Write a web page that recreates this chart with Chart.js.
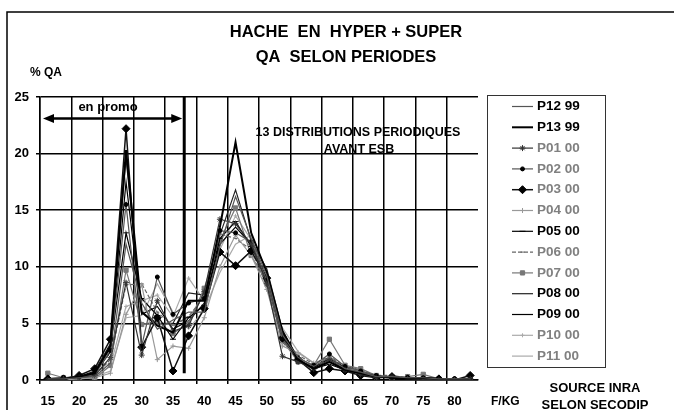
<!DOCTYPE html>
<html>
<head>
<meta charset="utf-8">
<script src="https://cdn.jsdelivr.net/npm/chart.js@4.4.1/dist/chart.umd.min.js"></script>
<style>
  html, body { margin: 0; padding: 0; background: #fff; }
  canvas { display: block; }
</style>
</head>
<body>
<canvas id="chart" width="674" height="410"></canvas>
<script>
// prix en F/KG (classes de 2,5 F)
const prices = [15, 17.5, 20, 22.5, 25, 27.5, 30, 32.5, 35, 37.5, 40, 42.5, 45, 47.5,
                50, 52.5, 55, 57.5, 60, 62.5, 65, 67.5, 70, 72.5, 75, 77.5, 80, 82.5];
const yTicks = [0, 5, 10, 15, 20, 25];

// % QA par periode
const p12_99 = [0.1, 0.1, 0.2, 0.3, 1.5, 12.0, 6.8, 4.5, 5.3, 6.0, 6.0, 11.8, 16.2, 12.5, 9.2, 4.0, 2.0, 1.2, 2.0, 1.0, 0.7, 0.3, 0.3, 0.2, 0.2, 0.1, 0.1, 0.1];
const p13_99 = [0.1, 0.1, 0.3, 0.6, 3.0, 20.3, 6.0, 4.8, 4.2, 7.0, 7.0, 13.5, 21.0, 13.0, 9.5, 4.3, 1.8, 1.0, 1.6, 0.9, 0.6, 0.3, 0.2, 0.1, 0.2, 0.1, 0.0, 0.1];
const p01_00 = [0.0, 0.1, 0.2, 0.4, 2.0, 8.6, 2.2, 7.0, 4.3, 4.8, 7.8, 14.2, 13.8, 12.0, 8.5, 2.1, 1.6, 1.0, 1.8, 0.9, 0.5, 0.2, 0.3, 0.1, 0.1, 0.0, 0.0, 0.1];
const p02_00 = [0.1, 0.2, 0.3, 0.5, 2.6, 15.5, 3.0, 9.1, 5.8, 6.8, 7.2, 13.2, 13.0, 12.2, 8.8, 3.6, 1.9, 1.3, 2.3, 1.2, 0.8, 0.4, 0.3, 0.2, 0.2, 0.1, 0.1, 0.1];
const p03_00 = [0.1, 0.1, 0.4, 1.0, 3.6, 22.2, 2.9, 5.5, 0.8, 3.9, 6.3, 11.3, 10.1, 11.4, 9.0, 3.7, 1.8, 0.65, 1.0, 0.8, 0.4, 0.2, 0.3, 0.1, 0.0, 0.1, 0.0, 0.4];
const p04_00 = [0.0, 0.0, 0.1, 0.2, 0.6, 5.8, 8.4, 1.8, 3.0, 2.8, 5.5, 10.0, 12.8, 11.0, 8.0, 3.0, 2.4, 1.5, 1.5, 1.0, 0.8, 0.3, 0.2, 0.2, 0.1, 0.1, 0.0, 0.0];
const p05_00 = [0.1, 0.2, 0.3, 0.7, 2.8, 13.0, 7.2, 5.7, 3.6, 5.5, 6.6, 12.5, 14.0, 11.8, 8.9, 3.8, 1.7, 1.1, 1.9, 1.1, 0.7, 0.3, 0.3, 0.2, 0.2, 0.1, 0.1, 0.1];
const p06_00 = [0.1, 0.1, 0.2, 0.4, 1.8, 8.4, 8.5, 6.0, 4.8, 5.6, 7.4, 12.9, 12.5, 11.5, 8.3, 3.3, 2.2, 1.4, 2.1, 1.2, 0.9, 0.4, 0.4, 0.2, 0.2, 0.1, 0.1, 0.1];
const p07_00 = [0.6, 0.2, 0.2, 0.1, 1.3, 9.7, 4.9, 5.2, 4.1, 5.0, 8.1, 12.3, 15.2, 11.0, 8.6, 3.5, 1.6, 1.3, 3.6, 1.3, 1.0, 0.4, 0.2, 0.3, 0.5, 0.1, 0.0, 0.05];
const p08_00 = [0.1, 0.1, 0.3, 0.8, 3.2, 19.6, 6.0, 5.0, 5.0, 7.7, 7.5, 12.8, 16.8, 12.3, 9.8, 4.4, 1.9, 0.9, 1.6, 0.8, 0.6, 0.2, 0.2, 0.1, 0.2, 0.0, 0.0, 0.1];
const p09_00 = [0.1, 0.1, 0.2, 0.6, 2.5, 17.5, 5.8, 6.5, 4.5, 5.2, 6.8, 12.0, 13.5, 12.0, 9.0, 4.0, 1.7, 1.0, 1.4, 0.9, 0.6, 0.3, 0.2, 0.1, 0.1, 0.1, 0.0, 0.1];
const p10_00 = [0.1, 0.1, 0.2, 0.3, 1.2, 6.5, 7.0, 7.5, 5.6, 9.0, 7.0, 11.5, 14.5, 12.4, 8.6, 3.8, 2.0, 1.2, 1.8, 1.0, 0.7, 0.3, 0.3, 0.2, 0.2, 0.1, 0.1, 0.1];
const p11_00 = [0.1, 0.1, 0.2, 0.3, 0.8, 5.5, 5.7, 8.5, 6.0, 4.5, 6.2, 9.5, 12.0, 12.8, 8.0, 4.6, 2.5, 1.5, 2.0, 1.1, 0.8, 0.3, 0.3, 0.2, 0.1, 0.1, 0.1, 0.1];

// fin de la periode promo (F/KG)
const PROMO_LIMIT = 36.8;
const PROMO_ARROW_Y = 23.1;
const PROMO_LINE_BOTTOM = 0.6;

const FONT = '"Liberation Sans", Arial, sans-serif';
const GRAY_TEXT = '#808080';

const series = [
  { label: 'P12 99', data: p12_99, color: '#555', width: 1.2, text: '#000' },
  { label: 'P13 99', data: p13_99, color: '#000', width: 2, text: '#000' },
  { label: 'P01 00', data: p01_00, color: '#333', width: 1.2, point: 'star', radius: 3, text: GRAY_TEXT },
  { label: 'P02 00', data: p02_00, color: '#555', width: 1.2, point: 'circle', radius: 2, fill: '#000', text: GRAY_TEXT },
  { label: 'P03 00', data: p03_00, color: '#111', width: 1.5, point: 'rectRot', radius: 4, fill: '#000', text: GRAY_TEXT },
  { label: 'P04 00', data: p04_00, color: '#999', width: 1.2, point: 'cross', radius: 2.5, text: GRAY_TEXT },
  { label: 'P05 00', data: p05_00, color: '#000', width: 1.2, point: 'line', radius: 3, text: '#000' },
  { label: 'P06 00', data: p06_00, color: '#666', width: 1.2, dash: [4, 2], point: 'line', radius: 2, text: GRAY_TEXT },
  { label: 'P07 00', data: p07_00, color: '#777', width: 1.2, point: 'rect', radius: 3, fill: '#777', text: GRAY_TEXT },
  { label: 'P08 00', data: p08_00, color: '#222', width: 1.2, text: '#000' },
  { label: 'P09 00', data: p09_00, color: '#000', width: 1.2, text: '#000' },
  { label: 'P10 00', data: p10_00, color: '#aaa', width: 1.2, point: 'cross', radius: 2, text: GRAY_TEXT },
  { label: 'P11 00', data: p11_00, color: '#aaa', width: 1.2, text: GRAY_TEXT }
];

const datasets = series.map(s => ({
  label: s.label,
  data: s.data,
  borderColor: s.color,
  borderWidth: s.width,
  borderDash: s.dash || [],
  pointStyle: s.point || false,
  pointRadius: s.point ? s.radius : 0,
  pointBackgroundColor: s.fill || s.color,
  pointBorderColor: s.fill || s.color,
  pointBorderWidth: 1,
  tension: 0,
  fill: false
}));

function drawArrowHead(ctx, x, y, dir) {
  ctx.beginPath();
  ctx.moveTo(x, y);
  ctx.lineTo(x + dir * 11, y - 4.5);
  ctx.lineTo(x + dir * 11, y + 4.5);
  ctx.closePath();
  ctx.fill();
}

const decor = {
  id: 'decor',
  afterDatasetsDraw(chart) {
    const { ctx, scales: { x, y } } = chart;
    const step = prices[1] - prices[0];
    const px = x.getPixelForValue((PROMO_LIMIT - prices[0]) / step);
    ctx.save();
    ctx.strokeStyle = '#000';
    ctx.fillStyle = '#000';
    ctx.lineWidth = 3;
    ctx.beginPath();
    ctx.moveTo(px, y.getPixelForValue(25));
    ctx.lineTo(px, y.getPixelForValue(PROMO_LINE_BOTTOM));
    ctx.stroke();

    // fleche "en promo"
    const ay = y.getPixelForValue(PROMO_ARROW_Y);
    const ax0 = x.left + 3;
    const ax1 = px - 2;
    ctx.lineWidth = 2.5;
    ctx.beginPath();
    ctx.moveTo(ax0 + 8, ay);
    ctx.lineTo(ax1 - 8, ay);
    ctx.stroke();
    drawArrowHead(ctx, ax0, ay, 1);
    drawArrowHead(ctx, ax1, ay, -1);
    ctx.font = 'bold 13px ' + FONT;
    ctx.textAlign = 'center';
    ctx.textBaseline = 'middle';
    ctx.fillText('en promo', 108, 107);
    ctx.restore();
  },
  afterDraw(chart) {
    const { ctx } = chart;
    ctx.save();
    // cadre
    ctx.strokeStyle = '#000';
    ctx.lineWidth = 1.5;
    ctx.strokeRect(7, 12, 700, 420);

    ctx.fillStyle = '#000';
    ctx.textBaseline = 'middle';
    ctx.textAlign = 'center';
    ctx.font = 'bold 16.5px ' + FONT;
    ctx.fillText('HACHE  EN  HYPER + SUPER', 346, 32);
    ctx.fillText('QA  SELON PERIODES', 346, 57);

    ctx.font = 'bold 12px ' + FONT;
    ctx.textAlign = 'left';
    ctx.fillText('% QA', 30, 73);

    ctx.textAlign = 'center';
    ctx.font = 'bold 12.5px ' + FONT;
    ctx.fillText('13 DISTRIBUTIONS PERIODIQUES', 358, 133);
    ctx.fillText('AVANT ESB', 359, 150);

    ctx.font = 'bold 12px ' + FONT;
    ctx.textAlign = 'left';
    ctx.fillText('F/KG', 491, 402);
    ctx.textAlign = 'center';
    ctx.font = 'bold 13px ' + FONT;
    ctx.fillText('SOURCE INRA', 595, 388);
    ctx.fillText('SELON SECODIP', 595, 405);

    // legende encadree
    ctx.lineWidth = 1;
    ctx.strokeStyle = '#333';
    ctx.strokeRect(487.5, 95.5, 118, 272);
    const rowH = 20.8;
    ctx.font = 'bold 13.5px ' + FONT;
    ctx.textAlign = 'left';
    series.forEach((s, i) => {
      const ly = 106.5 + i * rowH;
      ctx.save();
      ctx.strokeStyle = s.color;
      ctx.lineWidth = s.width;
      ctx.setLineDash(s.dash || []);
      ctx.beginPath();
      ctx.moveTo(512, ly);
      ctx.lineTo(533, ly);
      ctx.stroke();
      ctx.setLineDash([]);
      if (s.point) {
        ctx.fillStyle = s.fill || s.color;
        ctx.strokeStyle = s.fill || s.color;
        ctx.lineWidth = 1;
        Chart.helpers.drawPoint(ctx, { pointStyle: s.point, radius: s.radius, borderWidth: 1, rotation: 0 }, 522.5, ly);
      }
      ctx.restore();
      ctx.fillStyle = s.text;
      ctx.fillText(s.label, 537, ly);
    });
    ctx.restore();
  }
};

new Chart(document.getElementById('chart'), {
  type: 'line',
  data: { labels: prices, datasets: datasets },
  options: {
    responsive: false,
    animation: false,
    devicePixelRatio: 1,
    layout: { padding: { left: 0, top: 97, right: 196, bottom: 0 } },
    plugins: {
      legend: { display: false },
      tooltip: { enabled: false },
      title: { display: false }
    },
    scales: {
      x: {
        type: 'category',
        offset: true,
        afterFit: scale => { scale.height = 30; },
        grid: {
          offset: true,
          color: c => (c.index % 2 === 0 ? '#000' : 'rgba(0,0,0,0)'),
          lineWidth: 1.5,
          tickLength: 4
        },
        border: { color: '#000', width: 1.5 },
        ticks: {
          autoSkip: false,
          maxRotation: 0,
          padding: 10,
          color: '#000',
          font: { family: FONT, size: 13, weight: 'bold' },
          callback: (v, i) => (i % 2 === 0 ? String(prices[i]) : '')
        }
      },
      y: {
        min: 0,
        max: 25,
        afterFit: scale => { scale.width = 40; },
        afterBuildTicks: scale => { scale.ticks = yTicks.map(v => ({ value: v })); },
        grid: { color: '#000', lineWidth: 1.5, tickLength: 4 },
        border: { color: '#000', width: 1.5 },
        ticks: {
          padding: 7,
          color: '#000',
          font: { family: FONT, size: 13, weight: 'bold' }
        }
      }
    }
  },
  plugins: [decor]
});
</script>
</body>
</html>
